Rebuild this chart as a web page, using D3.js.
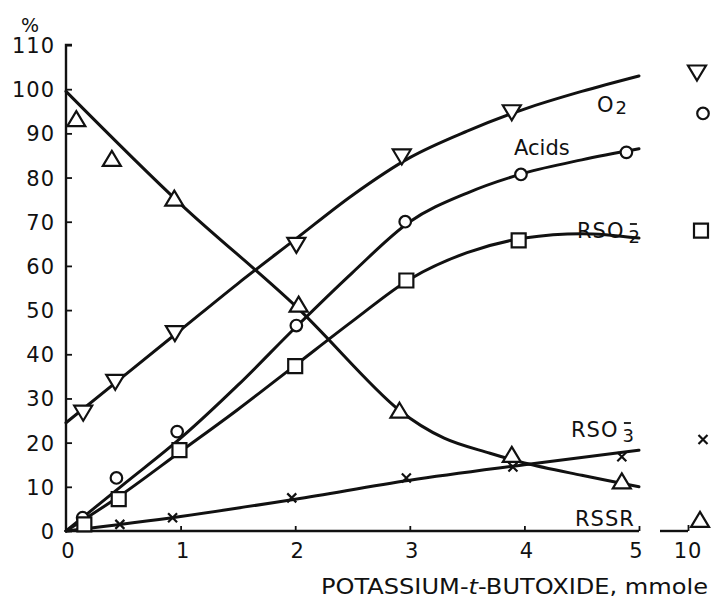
<!DOCTYPE html>
<html>
<head>
<meta charset="utf-8">
<script src="https://cdn.jsdelivr.net/npm/d3@7"></script>
<style>
  html, body { margin: 0; padding: 0; background: #fff; }
  svg { display: block; }
  text { font-family: "DejaVu Sans", "Liberation Sans", sans-serif; fill: #111; }
</style>
</head>
<body>
<svg id="chart" width="711" height="604"></svg>
<script>
// Axis ticks
const xTicks = [0, 1, 2, 3, 4, 5];
const yTicks = [0, 10, 20, 30, 40, 50, 60, 70, 80, 90, 100, 110];
const breakTick = 10;

// Measured points (mmole, %)
const o2Points    = [[0.15, 27], [0.43, 34], [0.95, 45], [2.01, 65], [2.93, 85], [3.89, 95]];
const acidsPoints = [[0.145, 3], [0.44, 12], [0.97, 22.5], [2.01, 46.5], [2.96, 70], [3.97, 80.7], [4.89, 85.7]];
const rso2Points  = [[0.16, 1.5], [0.46, 7.2], [0.99, 18.3], [2.0, 37.3], [2.97, 56.7], [3.95, 65.8]];
const rso3Points  = [[0.47, 1.5], [0.93, 3], [1.97, 7.5], [2.97, 12], [3.9, 14.5], [4.85, 16.8]];
const rssrPoints  = [[0.09, 93], [0.4, 84], [0.945, 75], [2.03, 51], [2.91, 27], [3.89, 17], [4.85, 11]];

// Values at 10 mmole
const tenValues = { o2: 104, acids: 94.5, rso2: 68, rso3: 20.7, rssr: 2.3 };

// Smoothed curves drawn through the data
const o2Curve    = [[0, 24.5], [0.5, 35], [1, 45.5], [1.5, 56], [2, 66], [2.5, 76], [3, 84.5], [3.5, 90.5], [4, 95.5], [4.5, 99.5], [5, 103]];
const acidsCurve = [[0, 0], [0.5, 10.5], [1, 21], [1.5, 33], [2, 46], [2.5, 58.5], [3, 70], [3.5, 76.5], [4, 81], [4.5, 84], [5, 86.5]];
const rso2Curve  = [[0, 0], [0.5, 8.5], [1, 18], [1.5, 27.5], [2, 37.5], [2.5, 47.5], [3, 57], [3.5, 63], [4, 66.3], [4.5, 67.3], [5, 66.3]];
const rso3Curve  = [[0, 0], [1, 3.3], [2, 7.2], [3, 11.5], [4, 15], [5, 18.3]];
const rssrCurve  = [[0, 99.5], [1, 74], [2, 51], [2.9, 27.5], [3.3, 21], [3.7, 17.6], [4, 15.4], [4.5, 12.6], [5, 10]];

const svg = d3.select("#chart");

const x = d3.scaleLinear().domain([0, 5]).range([66, 639]);
const xBreak = d3.scaleLinear().domain([9, 10]).range([660, 688]);
const y = d3.scaleLinear().domain([0, 110]).range([531, 45]);

// ---- Axes ----
const yAxis = d3.axisRight(y).tickValues(yTicks).tickSize(6).tickFormat("");
const gy = svg.append("g").attr("transform", `translate(${x(0)},0)`).call(yAxis);
gy.select(".domain").attr("d", `M6,${y(110)}H0V${y(0)}`).attr("stroke", "#111").attr("stroke-width", 2.4);
gy.selectAll(".tick line").attr("stroke", "#111").attr("stroke-width", 1.8);

const xAxis = d3.axisTop(x).tickValues(xTicks.filter(d => d > 0)).tickSize(5).tickFormat("");
const gx = svg.append("g").attr("transform", `translate(0,${y(0)})`).call(xAxis);
gx.select(".domain").attr("d", `M${x(0)},0H${x(5)}`).attr("stroke", "#111").attr("stroke-width", 2.4);
gx.selectAll(".tick line").attr("stroke", "#111").attr("stroke-width", 1.8);

const gxb = svg.append("g").attr("transform", `translate(0,${y(0)})`)
  .call(d3.axisTop(xBreak).tickValues([breakTick]).tickSize(6).tickFormat(""));
gxb.select(".domain").attr("d", `M${xBreak(9)},0H${xBreak(10)}`).attr("stroke", "#111").attr("stroke-width", 2.4);
gxb.selectAll(".tick line").attr("stroke", "#111").attr("stroke-width", 1.8);

// Tick labels
svg.append("g").selectAll("text").data(yTicks).join("text")
  .attr("x", 55).attr("y", d => y(d) + 8)
  .attr("text-anchor", "end").attr("font-size", 21).attr("letter-spacing", 1)
  .text(d => d);
svg.append("text").attr("x", 30).attr("y", 32).attr("text-anchor", "middle").attr("font-size", 19).text("%");

svg.append("g").selectAll("text").data(xTicks).join("text")
  .attr("x", d => x(d) + (d === 5 ? -3 : 2)).attr("y", 558)
  .attr("text-anchor", "middle").attr("font-size", 21)
  .text(d => d);
svg.append("text").attr("x", xBreak(breakTick)).attr("y", 558)
  .attr("text-anchor", "middle").attr("font-size", 21).attr("letter-spacing", 1).text(breakTick);

const title = svg.append("text").attr("x", 321).attr("y", 594).attr("font-size", 20.5)
  .attr("textLength", 387).attr("lengthAdjust", "spacingAndGlyphs");
title.append("tspan").text("POTASSIUM-");
title.append("tspan").attr("font-style", "italic").text("t");
title.append("tspan").text("-BUTOXIDE, mmole");

// ---- Curves ----
const line = d3.line().x(d => x(d[0])).y(d => y(d[1])).curve(d3.curveMonotoneX);
const rssrLine = d3.line().x(d => x(d[0])).y(d => y(d[1])).curve(d3.curveCatmullRom.alpha(0.5));
[o2Curve, acidsCurve, rso2Curve, rso3Curve].forEach(c => {
  svg.append("path").attr("d", line(c)).attr("fill", "none")
    .attr("stroke", "#111").attr("stroke-width", 3).attr("stroke-linecap", "round");
});
svg.append("path").attr("d", rssrLine(rssrCurve)).attr("fill", "none")
  .attr("stroke", "#111").attr("stroke-width", 3).attr("stroke-linecap", "round");

// ---- Markers ----
const triUp = "M0,-9L9,6L-9,6Z";
const triDown = "M0,9L9,-6L-9,-6Z";
const square = "M-7,-7H7V7H-7Z";
const cross = "M-4.5,-4.5L4.5,4.5M4.5,-4.5L-4.5,4.5";
const circle = d3.symbol(d3.symbolCircle, 105)();

function markers(points, shape, sx, dx) {
  svg.append("g").selectAll("path").data(points).join("path")
    .attr("transform", d => `translate(${sx(d[0]) + dx},${y(d[1])})`)
    .attr("d", shape)
    .attr("fill", shape === cross ? "none" : "#fff")
    .attr("stroke", "#111").attr("stroke-width", 2.2);
}
markers(o2Points, triDown, x, 0);
markers(acidsPoints, circle, x, 0);
markers(rso2Points, square, x, 0);
markers(rso3Points, cross, x, 0);
markers(rssrPoints, triUp, x, 0);

// Points at 10 mmole, set just right of the tick
const tenOffset = 12;
markers([[breakTick, tenValues.o2]], triDown, xBreak, tenOffset - 3);
markers([[breakTick, tenValues.acids]], circle, xBreak, tenOffset + 3);
markers([[breakTick, tenValues.rso2]], square, xBreak, tenOffset + 1);
markers([[breakTick, tenValues.rso3]], cross, xBreak, tenOffset + 3);
markers([[breakTick, tenValues.rssr]], triUp, xBreak, tenOffset);

// ---- Series labels ----
const fs = 21;
const o2 = svg.append("text").attr("x", 597).attr("y", 112).attr("font-size", fs);
o2.append("tspan").text("O");
o2.append("tspan").attr("dx", 2).attr("dy", 2).attr("font-size", 18).text("2");

svg.append("text").attr("x", 514).attr("y", 155).attr("font-size", fs).text("Acids");

function ionLabel(px, py, charge) {
  const t = svg.append("text").attr("x", px).attr("y", py).attr("font-size", fs).attr("letter-spacing", 1);
  t.append("tspan").text("RSO");
  t.append("tspan").attr("dx", 4).attr("dy", 5).attr("font-size", 18).text(charge);
  const bb = t.node().getBBox();
  svg.append("line").attr("x1", bb.x + bb.width - 11).attr("x2", bb.x + bb.width - 4)
    .attr("y1", py - 14).attr("y2", py - 14).attr("stroke", "#111").attr("stroke-width", 1.8);
}
ionLabel(577, 238, "2");
ionLabel(571, 437, "3");

svg.append("text").attr("x", 575).attr("y", 526).attr("font-size", fs).attr("letter-spacing", 1).text("RSSR");
</script>
</body>
</html>
